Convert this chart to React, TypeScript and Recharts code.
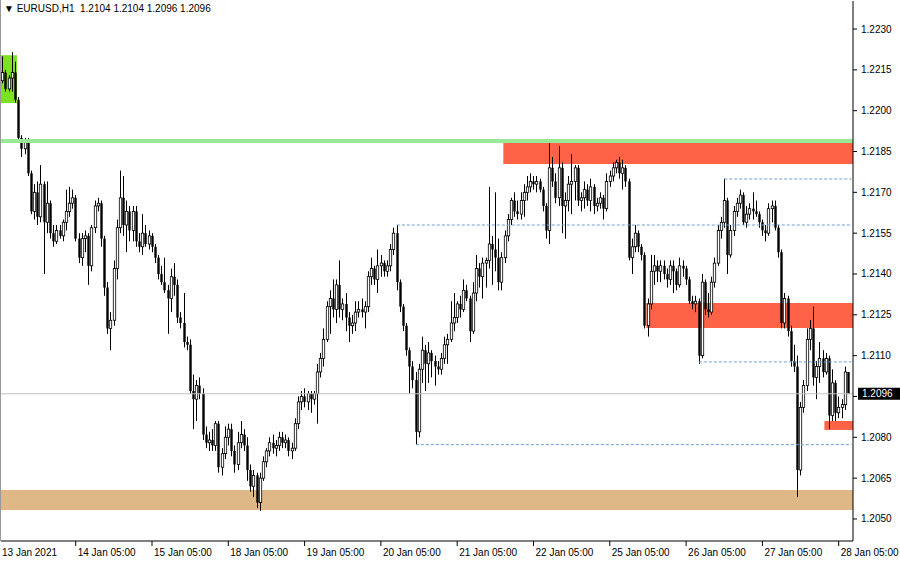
import React from "react";
import { ComposedChart, Bar, XAxis, YAxis, ReferenceArea, ReferenceLine } from "recharts";

// EURUSD H1 candles, values in pips above 1.2000 as [open, high, low, close]
const days = ["13 Jan", "14 Jan", "15 Jan", "18 Jan", "19 Jan", "20 Jan", "21 Jan", "22 Jan", "25 Jan", "26 Jan", "27 Jan", "28 Jan"];

const jan13 = [
  [211, 220, 210, 214], [214, 215, 207, 208], [208, 213, 207, 212], [212, 221.5, 207, 214], [214, 218, 203, 204],
  [204, 205, 189, 190], [190, 191, 183, 186], [186, 190, 184, 189], [189, 190, 176, 177], [177, 178, 162, 163],
  [163, 173, 160, 170], [170, 174, 158, 161], [161, 180, 159, 173], [173, 174, 140, 159], [159, 174, 155, 166],
  [166, 167, 153, 155], [155, 158, 150, 152], [152, 158, 151, 156],
];
const jan14 = [
  [156, 158, 153, 154], [154, 160, 152, 159], [159, 171, 156, 163], [163, 172, 161, 166], [166, 171, 164, 168],
  [168, 169, 152, 153], [153, 155, 144, 146], [146, 155, 143, 153], [153, 156, 148, 154], [154, 155, 136, 143],
  [143, 158, 141, 157], [157, 167, 155, 165], [165, 168, 163, 166], [166, 167, 150, 153], [153, 154, 132, 135],
  [135, 137, 118, 120], [120, 126, 112, 123], [123, 145, 121, 142], [142, 160, 138, 157], [157, 178, 155, 168],
  [168, 176, 154, 158], [158, 167, 148, 163], [163, 165, 152, 156], [156, 165, 152, 163],
];
const jan15 = [
  [163, 165, 150, 152], [152, 155, 148, 150], [150, 162, 147, 155], [155, 158, 150, 151], [151, 156, 149, 154],
  [154, 155, 148, 150], [150, 151, 144, 146], [146, 147, 138, 140], [140, 143, 136, 137], [137, 146, 133, 134],
  [134, 136, 118, 131], [131, 142, 126, 139], [139, 144, 132, 136], [136, 138, 122, 124], [124, 126, 120, 122],
  [122, 133, 113, 115], [115, 117, 112, 114], [114, 116, 96, 97], [97, 103, 83, 94], [94, 101, 86, 99],
  [99, 102, 94, 96], [96, 98, 79, 81], [81, 84, 76, 78], [78, 82, 75, 79],
];
const jan18 = [
  [79, 83, 75, 77], [77, 86, 75, 85], [85, 86, 67, 69], [69, 76, 66, 74], [74, 84, 72, 80],
  [80, 85, 77, 83], [83, 85, 73, 75], [75, 77, 67, 70], [70, 82, 68, 78], [78, 86, 76, 81],
  [81, 83, 75, 77], [77, 80, 64, 68], [68, 70, 60, 62], [62, 68, 58, 66], [66, 67, 54, 56],
  [56, 67, 53, 65], [65, 73, 64, 71], [71, 76, 69, 75], [75, 80, 73, 78], [78, 81, 74, 76],
  [76, 79, 73, 77], [77, 82, 75, 80], [80, 82, 76, 78], [78, 81, 76, 79],
];
const jan19 = [
  [79, 80, 73, 75], [75, 78, 72, 76], [76, 87, 75, 85], [85, 95, 83, 93], [93, 97, 90, 95],
  [95, 98, 91, 93], [93, 97, 90, 96], [96, 97, 89, 94], [94, 97, 92, 96], [96, 107, 85, 104],
  [104, 111, 102, 109], [109, 120, 106, 116], [116, 130, 115, 128], [128, 134, 118, 131], [131, 138, 124, 127],
  [127, 138, 122, 136], [136, 145, 124, 127], [127, 131, 123, 129], [129, 133, 119, 124], [124, 126, 115, 121],
  [121, 125, 118, 122], [122, 130, 119, 126], [126, 130, 124, 127], [127, 131, 124, 126],
];
const jan20 = [
  [126, 130, 120, 128], [128, 141, 126, 139], [139, 146, 136, 142], [142, 143, 136, 138], [138, 149, 133, 143],
  [143, 147, 139, 144], [144, 145, 139, 141], [141, 145, 139, 143], [143, 151, 141, 149], [149, 157, 147, 155],
  [155, 158, 134, 137], [137, 138, 126, 128], [128, 129, 119, 121], [121, 122, 110, 112], [112, 113, 96, 106],
  [106, 108, 98, 101], [101, 104, 77.3, 82], [82, 107, 80, 105], [105, 117, 100, 112], [112, 114, 97, 107],
  [107, 115, 100, 111], [111, 112, 102, 108], [108, 110, 99, 106], [106, 108, 103, 105],
];
const jan21 = [
  [105, 111, 103, 109], [109, 117, 107, 114], [114, 118, 107, 116], [116, 130, 115, 122], [122, 133, 119, 124],
  [124, 130, 122, 129], [129, 132, 124, 127], [127, 138, 126, 134], [134, 136, 130, 131], [131, 132, 115, 119],
  [119, 137, 118, 133], [133, 147, 130, 142], [142, 144, 135, 139], [139, 146, 131, 144], [144, 146, 135, 145],
  [145, 172, 142, 151], [151, 154, 136, 149], [149, 170, 141, 146], [146, 153, 134, 137], [137, 148, 134, 146],
  [146, 156, 144, 154], [154, 162, 152, 160], [160, 168, 158, 167], [167, 170, 161, 163],
];
const jan22 = [
  [163, 167, 160, 162], [162, 170, 160, 167], [167, 173, 161, 170], [170, 176, 167, 172], [172, 177, 170, 174],
  [174, 176, 171, 173], [173, 176, 170, 174], [174, 175, 170, 171], [171, 172, 163, 165], [165, 166, 153, 156],
  [156, 188.5, 151, 179], [179, 183, 172, 174], [174, 177, 166, 168], [168, 187, 165, 179], [179, 181, 155, 165],
  [165, 170, 153, 167], [167, 176, 163, 173], [173, 184, 162, 174], [174, 180, 167, 179], [179, 180, 165, 167],
  [167, 170, 163, 168], [168, 174, 164, 171], [171, 173, 165, 167], [167, 175, 163, 172],
];
const jan25 = [
  [172, 173, 162, 165], [165, 168, 163, 166], [166, 170, 164, 168], [168, 169, 160, 164], [164, 177, 163, 174],
  [174, 178, 172, 176], [176, 181, 174, 179], [179, 182, 177, 181], [181, 183, 175, 177], [177, 182, 171, 179],
  [179, 180, 172, 174], [174, 175, 145, 146], [146, 153, 140, 150], [150, 158, 148, 155], [155, 156, 148, 150],
  [150, 151, 145, 147], [147, 148, 120, 121], [121, 131, 117, 129], [129, 147, 127, 141], [141, 147, 136, 143],
  [143, 145, 137, 141], [141, 145, 137, 143], [143, 145, 138, 140], [140, 142, 135, 138],
];
const jan26 = [
  [138, 145, 136, 143], [143, 145, 133, 141], [141, 142, 134, 136], [136, 146, 135, 143], [143, 145, 139, 142],
  [142, 143, 136, 138], [138, 139, 129, 130], [130, 132, 127, 129], [129, 132, 126, 130], [130, 131, 107, 110],
  [110, 140, 109, 137], [137, 138, 125, 127], [127, 133, 124, 126], [126, 139, 125, 137], [137, 146, 135, 144],
  [144, 158, 143, 156], [156, 161, 153, 159], [159, 175, 157, 167], [167, 168, 140, 147], [147, 158, 146, 156],
  [156, 165, 154, 163], [163, 168, 161, 166], [166, 171, 164, 169], [169, 170, 158, 159],
];
const jan27 = [
  [159, 165, 157, 162], [162, 166, 160, 164], [164, 170, 160, 163], [163, 167, 161, 162], [162, 163, 157, 159],
  [159, 160, 154, 156], [156, 158, 152, 155], [155, 166, 154, 164], [164, 167, 159, 165], [165, 167, 156, 157],
  [157, 158, 146, 148], [148, 149, 120, 122], [122, 133, 120, 131], [131, 132, 117, 119], [119, 121, 106, 108],
  [108, 114, 104, 106], [106, 110, 58, 68], [68, 93, 66, 91], [91, 101, 89, 99], [99, 120, 97, 116],
  [116, 123, 112, 120], [120, 128, 99, 102], [102, 108, 94, 106], [106, 115, 100, 109],
];
const jan28 = [
  [109, 112, 102, 104], [104, 111, 103, 109], [109, 110, 83, 88], [88, 105, 86, 100], [100, 101, 86, 89],
  [89, 95, 87, 91], [91, 94, 87, 92], [92, 106, 90, 104], [104, 104, 96, 96],
];
const dayBars = [jan13, jan14, jan15, jan18, jan19, jan20, jan21, jan22, jan25, jan26, jan27, jan28];
const firstHour = [6, 0, 0, 0, 0, 0, 0, 0, 0, 0, 0, 0];

// price levels drawn on the chart
const yTicks = [1.205, 1.2065, 1.208, 1.2095, 1.211, 1.2125, 1.214, 1.2155, 1.217, 1.2185, 1.22, 1.2215, 1.223];
const greenBox = [1.22028, 1.22204];
const resistance = 1.21889;
const redTop = [1.21804, 1.21881];
const redMid = [1.21202, 1.21293];
const redLow = [1.20827, 1.2086];
const support = [1.20533, 1.20606];
const bid = 1.2096;

const px = (p: number) => +(1.2 + p / 10000).toFixed(5);
const pad = (n: number) => (n < 10 ? "0" + n : "" + n);

const rows: any[] = [];
dayBars.forEach((bars, d) => {
  bars.forEach((b, j) => {
    rows.push({ t: `${days[d]} ${pad(firstHour[d] + j)}:00`, o: px(b[0]), h: px(b[1]), l: px(b[2]), c: px(b[3]) });
  });
});
const last = rows[rows.length - 1];
// chart shift: one empty slot on the right
rows.push({ t: "28 Jan 09:00", o: null, h: null, l: null, c: null });

const xTicks = [rows[0].t, ...rows.filter((r) => r.t.endsWith("05:00")).map((r) => r.t)];
// dotted levels: [start bar, price]
const dotted: [number, number][] = [[124, 1.2158], [227, 1.21749], [219, 1.21077], [130, 1.20773]];

const FONT = "'Liberation Sans', Arial, sans-serif";

// eslint-disable-next-line @typescript-eslint/no-explicit-any
function Candle(props: any) {
  const { x, y, width, height, payload } = props;
  if (!payload || payload.o == null) return null;
  const { o, h, l, c } = payload;
  const top = Math.min(y, y + height);
  const bot = Math.max(y, y + height);
  const span = h - l || 1e-9;
  const py = (v: number) => top + ((h - v) / span) * (bot - top);
  const cx = Math.round(x + width / 2 - 0.5) + 0.5;
  const yo = py(o);
  const yc = py(c);
  const bTop = Math.min(yo, yc);
  const bH = Math.max(Math.abs(yo - yc), 1);
  const bull = c >= o;
  return (
    <g>
      <line x1={cx} x2={cx} y1={top} y2={bot} stroke="#000" strokeWidth={1} />
      <rect x={cx - 1.2} y={bTop} width={2.4} height={bH}
        fill={bull ? "#fff" : "#000"} stroke="#000" strokeWidth={bull ? 0.8 : 0} />
    </g>
  );
}

// eslint-disable-next-line @typescript-eslint/no-explicit-any
function XTick({ x, payload }: any) {
  const first = payload.value === rows[0].t;
  return (
    <g>
      {!first && <line x1={x} x2={x} y1={541} y2={546} stroke="#000" />}
      <text x={first ? 2 : x + 2} y={556} fontSize={10} fontFamily={FONT} fill="#000">
        {first ? "13 Jan 2021" : payload.value}
      </text>
    </g>
  );
}

// eslint-disable-next-line @typescript-eslint/no-explicit-any
function YTick({ y, payload }: any) {
  // the bid tag hides the scale label it sits on
  const hidden = Math.abs(payload.value - bid) < 0.0004;
  return (
    <g>
      <line x1={853} x2={857} y1={y} y2={y} stroke="#000" />
      {!hidden && (
        <text x={861} y={y} dy={3.5} fontSize={10} fontFamily={FONT} fill="#000">
          {payload.value.toFixed(4)}
        </text>
      )}
    </g>
  );
}

// eslint-disable-next-line @typescript-eslint/no-explicit-any
function BidTag({ viewBox }: any) {
  const y = viewBox.y;
  return (
    <g>
      <rect x={858} y={y - 6} width={42} height={12} fill="#000" />
      <text x={862} y={y} dy={3.5} fontSize={10} fontFamily={FONT} fill="#fff">{bid.toFixed(4)}</text>
    </g>
  );
}

export default function App() {
  const title = `▼ EURUSD,H1  ${last.o.toFixed(4)} ${last.h.toFixed(4)} ${last.l.toFixed(4)} ${last.c.toFixed(4)}`;
  return (
    <div style={{ position: "absolute", left: 0, top: 0, width: 900, height: 561, background: "#fff" }}>
      <style>{"body{margin:0}"}</style>
      <ComposedChart width={900} height={561} data={rows} margin={{ top: 1, right: 0, bottom: 0, left: 1 }}>
        <XAxis dataKey="t" ticks={xTicks} interval={0} tick={<XTick />} tickLine={false}
          axisLine={{ stroke: "#000" }} height={20} />
        <YAxis orientation="right" type="number" domain={[1.20419, 1.22403]} allowDataOverflow
          ticks={yTicks} width={47} tick={<YTick />} tickLine={false} axisLine={{ stroke: "#000" }} />

        <ReferenceArea y1={support[0]} y2={support[1]} fill="#DEB887" fillOpacity={1} stroke="none" />
        <ReferenceArea x1={rows[0].t} x2={rows[4].t} y1={greenBox[0]} y2={greenBox[1]}
          fill="#7CE21F" fillOpacity={1} stroke="none" />
        <ReferenceLine y={resistance} stroke="#98E898" strokeWidth={4} />
        <ReferenceArea x1={rows[158].t} y1={redTop[0]} y2={redTop[1]} fill="#FF6347" fillOpacity={1} stroke="none" />
        <ReferenceArea x1={rows[203].t} y1={redMid[0]} y2={redMid[1]} fill="#FF6347" fillOpacity={1} stroke="none" />
        <ReferenceArea x1={rows[259].t} y1={redLow[0]} y2={redLow[1]} fill="#FF6347" fillOpacity={1} stroke="none" />
        {dotted.map(([i, p]) => (
          <ReferenceLine key={i} segment={[{ x: rows[i].t, y: p }, { x: rows[rows.length - 1].t, y: p }]}
            stroke="#6E9FD6" strokeDasharray="3 2" strokeWidth={1} />
        ))}
        <ReferenceLine y={bid} stroke="#C0C0C0" strokeWidth={1} label={<BidTag />} />

        <Bar dataKey={(d: any) => (d.o == null ? null : [d.l, d.h])} shape={<Candle />} isAnimationActive={false} />
      </ComposedChart>
      <div style={{ position: "absolute", left: 0, top: 0, width: 0, height: 541, borderLeft: "1px solid #999" }} />
      <div style={{ position: "absolute", left: 4, top: 3, fontSize: 10, fontFamily: FONT, whiteSpace: "pre", color: "#000" }}>
        {title}
      </div>
    </div>
  );
}
